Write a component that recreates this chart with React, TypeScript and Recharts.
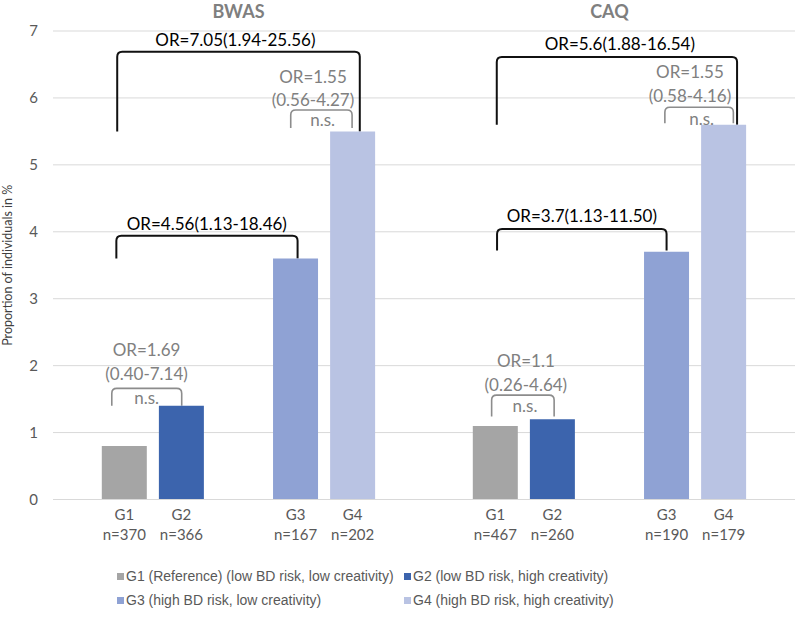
import React from 'react';
import {
  BarChart,
  Bar,
  XAxis,
  YAxis,
  CartesianGrid,
  Legend,
  ReferenceArea,
  ReferenceDot,
  Label,
} from 'recharts';

// ---- data ----
const groups = ['BWAS', 'CAQ'];
const groupCodes = ['G1', 'G2', 'G3', 'G4'];
const seriesNames = [
  'G1 (Reference) (low BD risk, low creativity)',
  'G2 (low BD risk, high creativity)',
  'G3 (high BD risk, low creativity)',
  'G4 (high BD risk, high creativity)',
];
const bwasPercent = [0.8, 1.4, 3.6, 5.5];
const caqPercent = [1.1, 1.2, 3.7, 5.6];
const bwasN = [370, 366, 167, 202];
const caqN = [467, 260, 190, 179];
const yTicks = [0, 1, 2, 3, 4, 5, 6, 7];

// ---- layout on the numeric x axis (0..26) ----
const slotX = [
  [2.5, 4.5, 8.5, 10.5],
  [15.5, 17.5, 21.5, 23.5],
];
const groupCenter = [6.5, 19.5];
const seriesColors = ['#a5a5a5', '#3c64ad', '#8fa2d4', '#b9c3e3'];
const seriesKeys = ['g1', 'g2', 'g3', 'g4'];

const FONT = 'Lato, "Open Sans", sans-serif';
const DARK = '#000000';
const MUTED = '#808080';

type Row = { x: number; code: string; n: number; [k: string]: any };

const percents = [bwasPercent, caqPercent];
const counts = [bwasN, caqN];
const rows: Row[] = [];
groups.forEach((_, g) => {
  groupCodes.forEach((code, i) => {
    rows.push({ x: slotX[g][i], code, n: counts[g][i], [seriesKeys[i]]: percents[g][i] });
  });
});

// comparison brackets (x in axis units, heights in % units)
const brackets = [
  { x1: 2.25, x2: 10.75, base: bwasPercent[3], top: 6.69, tone: 'dark' },
  { x1: 2.22, x2: 8.57, base: bwasPercent[2], top: 3.94, tone: 'dark' },
  { x1: 8.33, x2: 10.48, base: bwasPercent[3] + 0.05, top: 5.82, tone: 'muted' },
  { x1: 2.06, x2: 4.51, base: bwasPercent[1], top: 1.66, tone: 'muted' },
  { x1: 15.55, x2: 23.97, base: caqPercent[3], top: 6.61, tone: 'dark' },
  { x1: 15.56, x2: 21.5, base: caqPercent[2] + 0.02, top: 4.04, tone: 'dark' },
  { x1: 21.44, x2: 23.84, base: caqPercent[3] + 0.02, top: 5.86, tone: 'muted' },
  { x1: 15.37, x2: 17.56, base: caqPercent[1] + 0.04, top: 1.56, tone: 'muted' },
];

const notes = [
  { text: 'OR=7.05(1.94-25.56)', x: 6.39, y: 6.88, tone: 'dark' },
  { text: 'OR=4.56(1.13-18.46)', x: 5.39, y: 4.13, tone: 'dark' },
  { text: 'OR=1.55', x: 9.11, y: 6.32, tone: 'muted' },
  { text: '(0.56-4.27)', x: 9.11, y: 5.98, tone: 'muted' },
  { text: 'n.s.', x: 9.45, y: 5.68, tone: 'muted' },
  { text: 'OR=1.69', x: 3.28, y: 2.234, tone: 'muted' },
  { text: '(0.40-7.14)', x: 3.28, y: 1.886, tone: 'muted' },
  { text: 'n.s.', x: 3.28, y: 1.53, tone: 'muted' },
  { text: 'OR=5.6(1.88-16.54)', x: 19.86, y: 6.82, tone: 'dark' },
  { text: 'OR=3.7(1.13-11.50)', x: 18.53, y: 4.25, tone: 'dark' },
  { text: 'OR=1.55', x: 22.32, y: 6.39, tone: 'muted' },
  { text: '(0.58-4.16)', x: 22.32, y: 6.04, tone: 'muted' },
  { text: 'n.s.', x: 22.73, y: 5.7, tone: 'muted' },
  { text: 'OR=1.1', x: 16.57, y: 2.084, tone: 'muted' },
  { text: '(0.26-4.64)', x: 16.57, y: 1.72, tone: 'muted' },
  { text: 'n.s.', x: 16.54, y: 1.4, tone: 'muted' },
];

const bracketShape = (tone: string) => (p: any) => {
  const { x, y, width, height } = p;
  if (![x, y, width, height].every((v) => Number.isFinite(v))) return <g />;
  const r = 5;
  const x1 = x;
  const x2 = x + width;
  const yt = y;
  const yb = y + height;
  const d = `M${x1},${yb} L${x1},${yt + r} Q${x1},${yt} ${x1 + r},${yt} L${x2 - r},${yt} Q${x2},${yt} ${x2},${yt + r} L${x2},${yb}`;
  return (
    <path
      d={d}
      fill="none"
      stroke={tone === 'dark' ? '#111111' : '#8c8c8c'}
      strokeWidth={tone === 'dark' ? 2 : 1.6}
    />
  );
};

const textShape = (text: string, color: string, size: number, weight: number | string = 400) => (p: any) => (
  <text
    x={p.cx}
    y={p.cy}
    textAnchor="middle"
    dominantBaseline="central"
    fill={color}
    fontSize={size}
    fontWeight={weight}
    fontFamily={FONT}
  >
    {text}
  </text>
);

const XTick = (props: any) => {
  const { x, y, payload } = props;
  const row = rows.find((r) => Math.abs(r.x - payload.value) < 1e-6);
  if (!row) return null;
  return (
    <g>
      <text x={x} y={y + 14} textAnchor="middle" dominantBaseline="central" fill="#595959" fontSize={15} fontFamily={FONT}>
        {row.code}
      </text>
      <text x={x} y={y + 34} textAnchor="middle" dominantBaseline="central" fill="#595959" fontSize={15} fontFamily={FONT}>
        {`n=${row.n}`}
      </text>
    </g>
  );
};

const LegendBox = (props: any) => {
  const items: any[] = props.payload || [];
  return (
    <div
      style={{
        position: 'relative',
        width: 797,
        height: 57,
        fontFamily: '"Liberation Sans", Arial, sans-serif',
        fontSize: 14,
        color: '#595959',
      }}
    >
      {items.map((it, i) => {
        const col = i % 2;
        const row = Math.floor(i / 2);
        return (
          <div
            key={String(it.value)}
            style={{
              position: 'absolute',
              left: col ? 404 : 117,
              top: row ? 31 : 7,
              height: 18,
              lineHeight: '18px',
              whiteSpace: 'nowrap',
              display: 'flex',
              alignItems: 'center',
            }}
          >
            <span style={{ display: 'inline-block', width: 7, height: 7, background: it.color, marginRight: 2 }} />
            <span>{it.value}</span>
          </div>
        );
      })}
    </div>
  );
};

export default function App() {
  const allSlots = slotX.flat();
  return (
    <div style={{ position: 'absolute', left: 0, top: 0, background: '#ffffff' }}>
      <BarChart
        width={797}
        height={617}
        data={rows}
        margin={{ top: 31, right: 2, left: 0, bottom: 10.5 }}
      >
        <CartesianGrid vertical={false} stroke="#d9d9d9" />
        <XAxis
          dataKey="x"
          type="number"
          domain={[0, 26]}
          ticks={allSlots}
          interval={0}
          tick={<XTick />}
          tickLine={false}
          tickSize={0}
          tickMargin={0}
          axisLine={{ stroke: '#d9d9d9' }}
          height={50}
        />
        <YAxis
          domain={[0, 7]}
          ticks={yTicks}
          interval={0}
          axisLine={false}
          tickLine={false}
          tickSize={0}
          tickMargin={15}
          width={53}
          tick={{ fill: '#595959', fontSize: 15, fontFamily: FONT }}
        >
          <Label
            value="Proportion of individuals in %"
            angle={-90}
            position="center"
            dx={-18.5}
            fill="#404040"
            fontSize={12.5}
            fontFamily={FONT}
          />
        </YAxis>
        <Legend verticalAlign="bottom" height={57} wrapperStyle={{ left: 0, bottom: 0, width: 797 }} content={<LegendBox />} />
        {seriesKeys.map((k, i) => (
          <Bar
            key={k}
            dataKey={k}
            name={seriesNames[i]}
            stackId="share"
            fill={seriesColors[i]}
            barSize={45}
            isAnimationActive={false}
          />
        ))}
        {brackets.map((b, i) => (
          <ReferenceArea
            key={`br${i}`}
            x1={b.x1}
            x2={b.x2}
            y1={b.base}
            y2={b.top}
            ifOverflow="visible"
            shape={bracketShape(b.tone)}
          />
        ))}
        {notes.map((n, i) => (
          <ReferenceDot
            key={`nt${i}`}
            x={n.x}
            y={n.y}
            r={0}
            ifOverflow="visible"
            shape={textShape(n.text, n.tone === 'dark' ? DARK : MUTED, 17)}
          />
        ))}
        {groups.map((g, i) => (
          <ReferenceDot
            key={g}
            x={groupCenter[i]}
            y={7.3}
            r={0}
            ifOverflow="visible"
            shape={textShape(g, '#7f7f7f', 18, 700)}
          />
        ))}
      </BarChart>
    </div>
  );
}
